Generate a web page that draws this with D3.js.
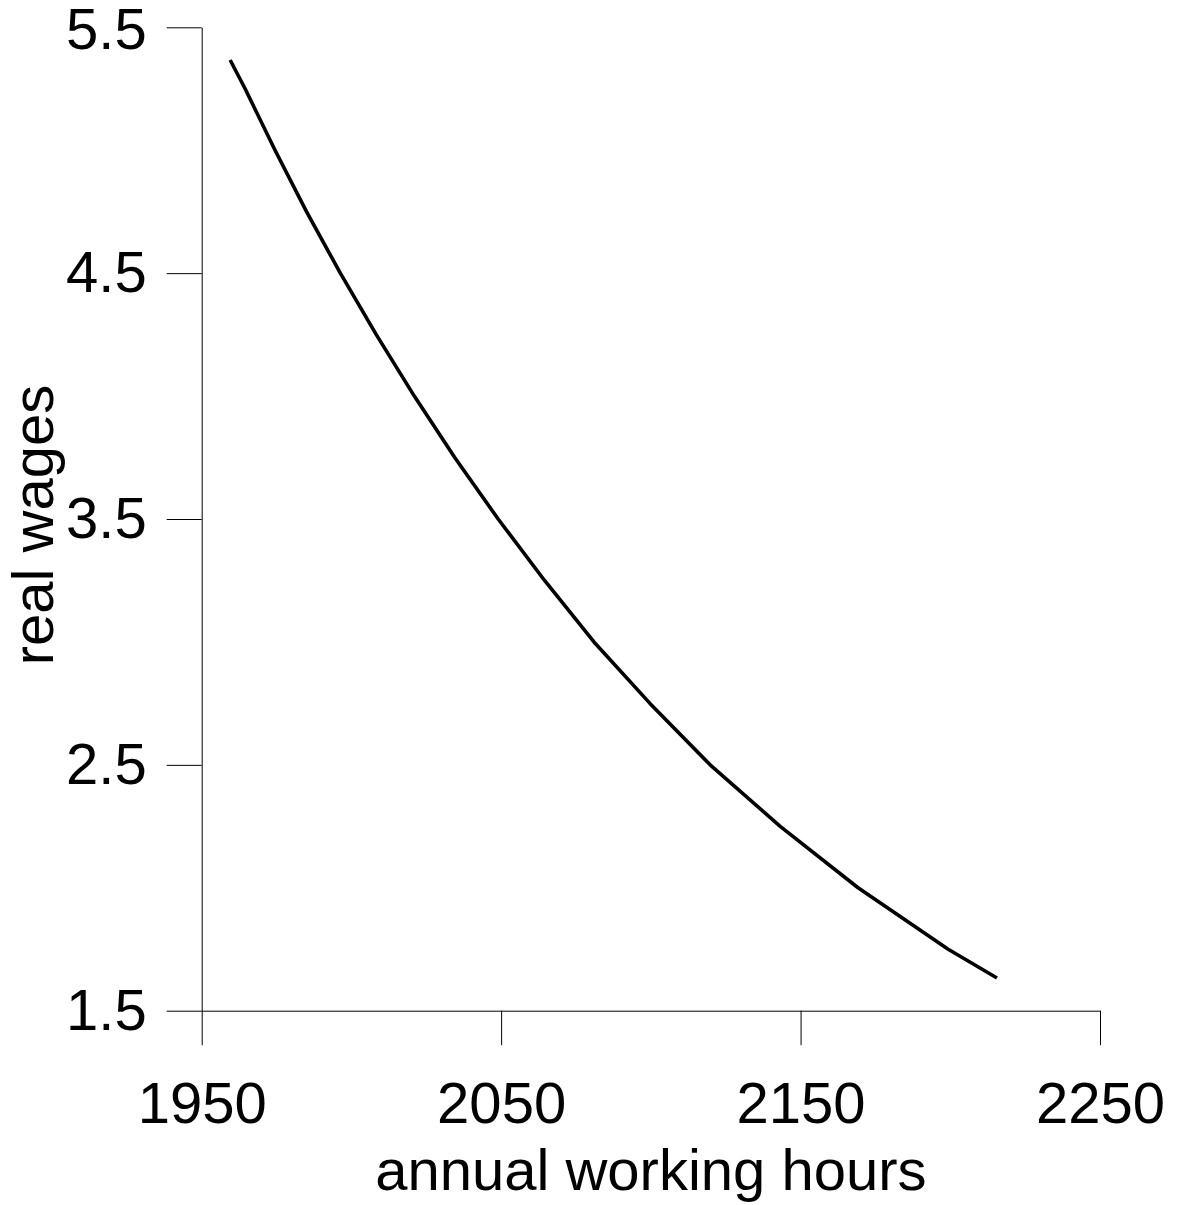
<!DOCTYPE html>
<html>
<head>
<meta charset="utf-8">
<script src="https://cdn.jsdelivr.net/npm/d3@7"></script>
<style>
  html, body { margin: 0; padding: 0; background: #fff; }
  svg text { font-family: "Liberation Sans", Arial, Helvetica, sans-serif; }
</style>
</head>
<body>
<svg id="chart" width="1178" height="1205"></svg>
<script>
// data
const hours = [1959.5, 1964.5, 1974.5, 1985, 1996.3, 2008.3, 2021, 2034.5, 2049, 2064.5, 2081, 2099.7, 2119.8, 2143.2, 2169.2, 2199.3, 2215.6];
const wages = [5.367, 5.25, 5.0, 4.75, 4.5, 4.25, 4.0, 3.75, 3.5, 3.25, 3.0, 2.75, 2.5, 2.25, 2.0, 1.75, 1.633];
const xTicks = [1950, 2050, 2150, 2250];
const yTicks = [1.5, 2.5, 3.5, 4.5, 5.5];
const xTitle = "annual working hours";
const yTitle = "real wages";

const svg = d3.select("#chart");
const x = d3.scaleLinear().domain([1950, 2250]).range([201.7, 1100]);
const y = d3.scaleLinear().domain([1.5, 5.5]).range([1010.7, 27.3]);
const fontSize = 58;

const xAxis = svg.append("g")
  .attr("transform", `translate(0,${y(1.5)})`)
  .call(d3.axisBottom(x).tickValues(xTicks).tickFormat(d3.format("d"))
    .tickSize(34.5).tickSizeOuter(0).tickPadding(37));
const yAxis = svg.append("g")
  .attr("transform", `translate(${x(1950)},0)`)
  .call(d3.axisLeft(y).tickValues(yTicks).tickFormat(d3.format(".1f"))
    .tickSize(35).tickSizeOuter(0).tickPadding(20));

[xAxis, yAxis].forEach(g => {
  g.selectAll("path.domain").attr("stroke", "#000").attr("stroke-width", 1);
  g.selectAll(".tick line").attr("stroke", "#000").attr("stroke-width", 1);
  g.selectAll(".tick text").attr("fill", "#000").style("font-size", fontSize + "px")
    .style("font-family", "'Liberation Sans', Arial, Helvetica, sans-serif");
  g.attr("font-size", null).attr("font-family", null);
});
// keep the top label inside the frame
yAxis.selectAll(".tick text").filter(d => d === 5.5).attr("dy", "0.36em");

const pts = hours.map((h, i) => [h, wages[i]]);
svg.append("path")
  .datum(pts)
  .attr("fill", "none")
  .attr("stroke", "#000")
  .attr("stroke-width", 3.6)
  .attr("stroke-linejoin", "round")
  .attr("d", d3.line().x(d => x(d[0])).y(d => y(d[1])));

svg.append("text")
  .attr("x", (x(1950) + x(2250)) / 2)
  .attr("y", 1190)
  .attr("text-anchor", "middle")
  .style("font-size", fontSize + "px")
  .text(xTitle);

svg.append("text")
  .attr("transform", `translate(53,525) rotate(-90)`)
  .attr("text-anchor", "middle")
  .style("font-size", fontSize + "px")
  .text(yTitle);
</script>
</body>
</html>
